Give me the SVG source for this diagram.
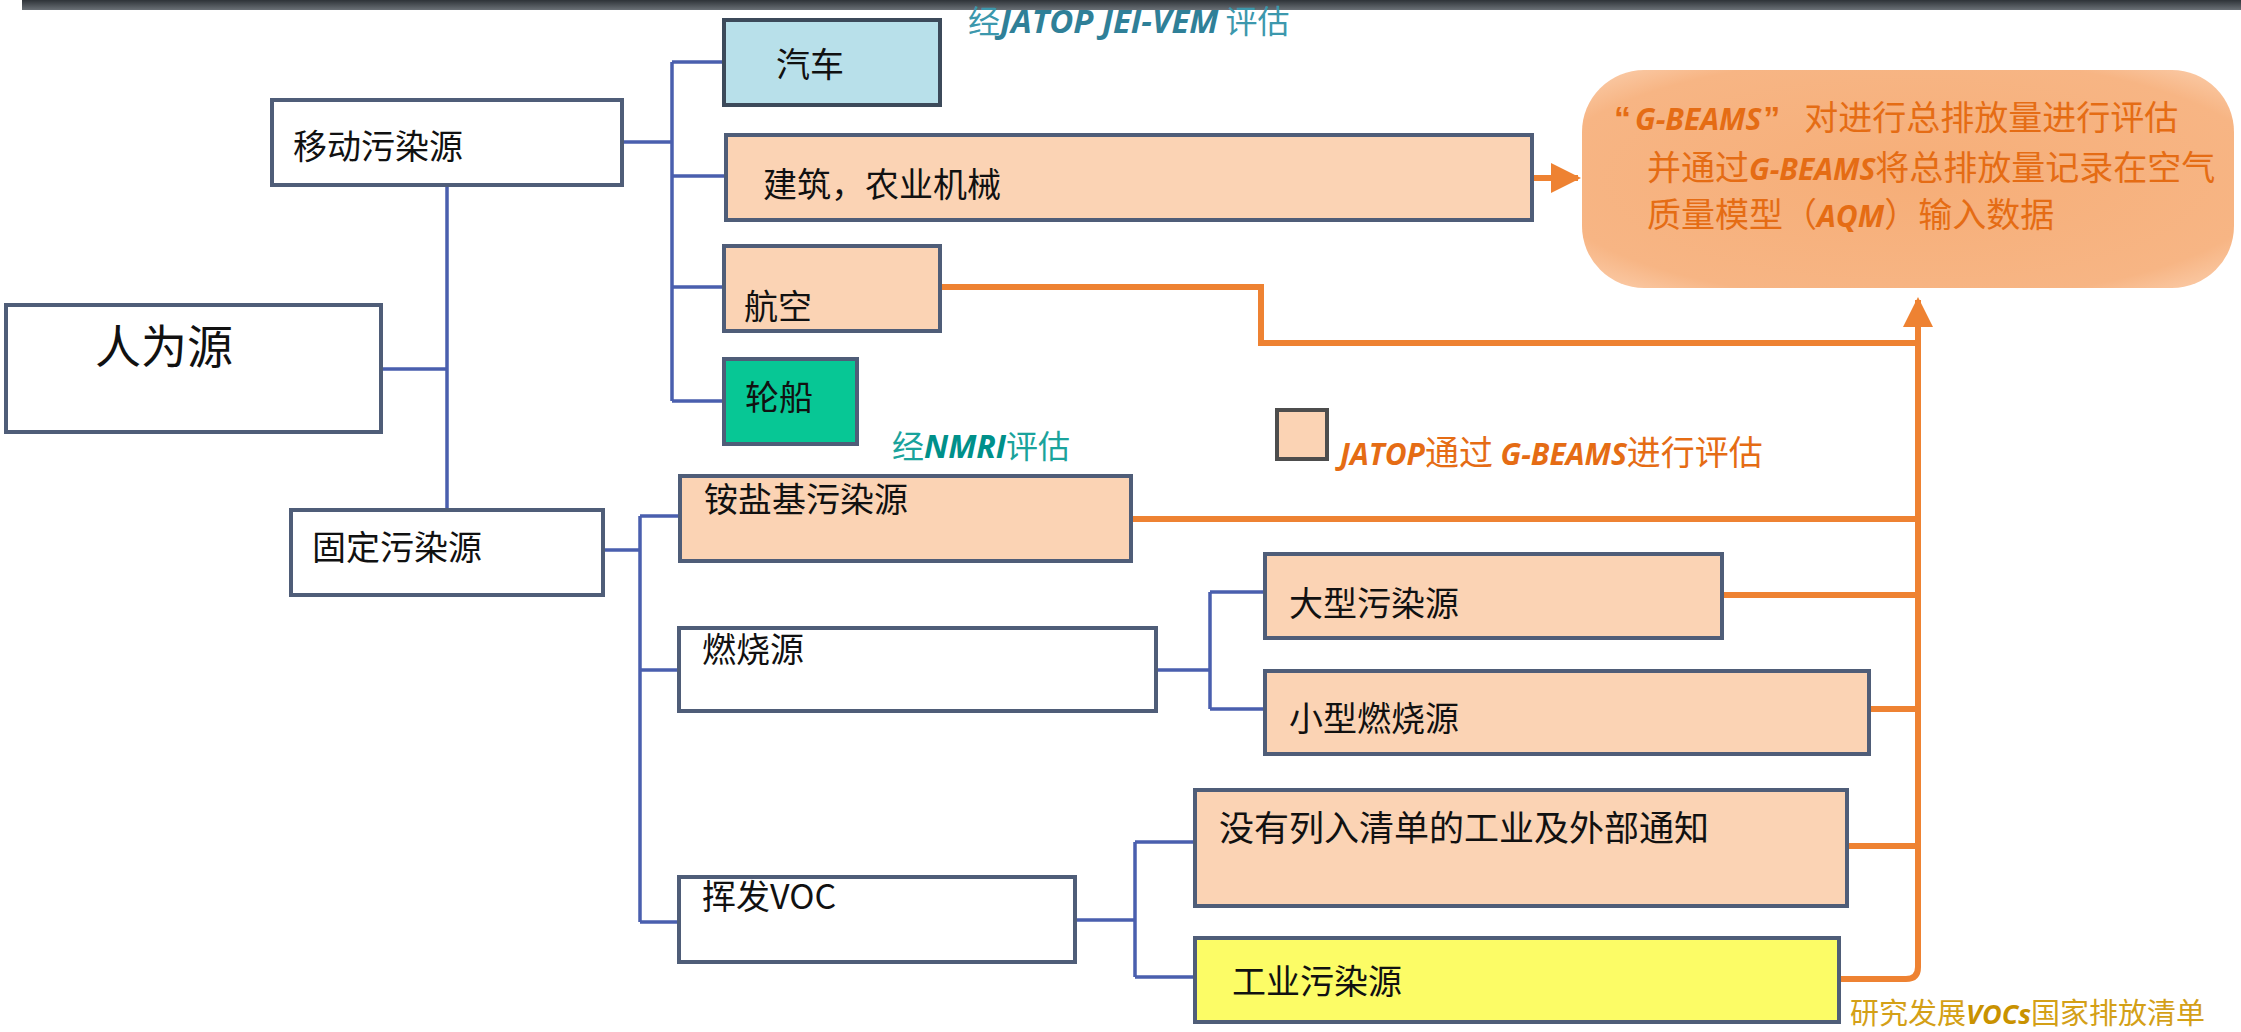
<svg xmlns="http://www.w3.org/2000/svg" width="2241" height="1032" viewBox="0 0 2241 1032">
<defs>
<linearGradient id="bar" x1="0" y1="0" x2="0" y2="1">
<stop offset="0" stop-color="#2e3338"/><stop offset="1" stop-color="#6a7076"/>
</linearGradient>
<radialGradient id="bigfill" cx="0.5" cy="0.5" r="0.7">
<stop offset="0" stop-color="#f6ae78"/><stop offset="0.8" stop-color="#f7b584"/><stop offset="1" stop-color="#fbcfae"/>
</radialGradient>
<marker id="arr" viewBox="0 0 10 10" refX="9" refY="5" markerWidth="5" markerHeight="5" orient="auto" markerUnits="strokeWidth">
<path d="M0,0 L10,5 L0,10 z" fill="#ee8232"/>
</marker>
<style>
.box{stroke:#4f5d78;stroke-width:4}
.white{fill:#ffffff}
.peach{fill:#fbd3b4}
.blue{fill:#b8e0ea}
.green{fill:#07c795}
.yellow{fill:#fcfc66}
.lbl{font-family:"Noto Sans CJK SC","Noto Sans",sans-serif;font-size:34px;fill:#111111}
.bl{fill:none;stroke:#4a5fae;stroke-width:3.5}
.ol{fill:none;stroke:#ee8232;stroke-width:6}
.or{font-family:"Noto Sans CJK SC","Noto Sans",sans-serif;font-size:34px;fill:#e56c14}
.lat{font-family:"Open Sans","Noto Sans",sans-serif;font-weight:bold;font-style:italic}
.teal{font-family:"Noto Sans CJK SC","Noto Sans",sans-serif;font-size:32px}
</style>
</defs>
<rect width="2241" height="1032" fill="#ffffff"/>
<rect x="22" y="0" width="2219" height="10" fill="url(#bar)"/>

<g id="connectors">
<path class="bl" d="M381,369 H447 M447,185 V510"/>
<path class="bl" d="M622,142 H672 M672,62 V401 M672,62 H724 M672,176 H726 M672,287 H724 M672,401 H724"/>
<path class="bl" d="M603,550 H640 M640,516 V922 M640,516 H680 M640,670 H679 M640,922 H679"/>
<path class="bl" d="M1156,670 H1210 M1210,592 V709 M1210,592 H1265 M1210,709 H1265"/>
<path class="bl" d="M1075,920 H1135 M1135,842 V977 M1135,842 H1195 M1135,977 H1195"/>
<path class="ol" d="M940,287 H1261 V343 H1918"/>
<path class="ol" d="M1131,519 H1918 M1722,595 H1918 M1869,709 H1918 M1847,846 H1918"/>
<path class="ol" d="M1839,979 H1906 Q1918,979 1918,967 V300" marker-end="url(#arr)"/>
<path class="ol" d="M1532,178 H1578" marker-end="url(#arr)"/>
</g>

<g id="n-renweiyuan"><rect class="box white" x="6" y="305" width="375" height="127"/><text class="lbl" x="95" y="363" style="font-size:46px">人为源</text></g>
<g id="n-yidong"><rect class="box white" x="272" y="100" width="350" height="85"/><text class="lbl" x="293" y="159">移动污染源</text></g>
<g id="n-guding"><rect class="box white" x="291" y="510" width="312" height="85"/><text class="lbl" x="312" y="560">固定污染源</text></g>
<g id="n-qiche"><rect class="box blue" x="724" y="20" width="216" height="85" style="stroke:#3c4a5a"/><text class="lbl" x="776" y="77">汽车</text></g>
<g id="n-jianzhu"><rect class="box peach" x="726" y="135" width="806" height="85"/><text class="lbl" x="763" y="197">建筑，农业机械</text></g>
<g id="n-hangkong"><rect class="box peach" x="724" y="246" width="216" height="85"/><text class="lbl" x="744" y="319">航空</text></g>
<g id="n-lunchuan"><rect class="box green" x="724" y="359" width="133" height="85"/><text class="lbl" x="745" y="410">轮船</text></g>
<g id="n-anyan"><rect class="box peach" x="680" y="476" width="451" height="85"/><text class="lbl" x="704" y="512">铵盐基污染源</text></g>
<g id="n-ranshao"><rect class="box white" x="679" y="628" width="477" height="83"/><text class="lbl" x="702" y="662">燃烧源</text></g>
<g id="n-huifa"><rect class="box white" x="679" y="877" width="396" height="85"/><text class="lbl" x="702" y="909">挥发VOC</text></g>
<g id="n-daxing"><rect class="box peach" x="1265" y="554" width="457" height="84"/><text class="lbl" x="1289" y="616">大型污染源</text></g>
<g id="n-xiaoxing"><rect class="box peach" x="1265" y="671" width="604" height="83"/><text class="lbl" x="1289" y="731">小型燃烧源</text></g>
<g id="n-meiyou"><rect class="box peach" x="1195" y="790" width="652" height="116"/><text class="lbl" x="1219" y="841" style="font-size:35px">没有列入清单的工业及外部通知</text></g>
<g id="n-gongye"><rect class="box yellow" x="1195" y="938" width="644" height="84"/><text class="lbl" x="1232" y="994">工业污染源</text></g>

<g id="n-gbeams">
<rect x="1582" y="70" width="652" height="218" rx="62" fill="url(#bigfill)"/>
<text class="or" x="1614" y="130"><tspan font-family="Liberation Sans" font-weight="bold">“</tspan><tspan class="lat" font-size="30" dx="4">G-BEAMS</tspan><tspan font-family="Liberation Sans" font-weight="bold" dx="2">”</tspan><tspan dx="24">对进行总排放量进行评估</tspan></text>
<text class="or" x="1647" y="180">并通过<tspan class="lat" font-size="30">G-BEAMS</tspan>将总排放量记录在空气</text>
<text class="or" x="1647" y="227">质量模型（<tspan class="lat" font-size="30">AQM</tspan>）输入数据</text>
</g>

<g id="legend">
<rect x="1277" y="410" width="50" height="49" fill="#fbd3b4" stroke="#4d4d4d" stroke-width="4"/>
<text class="or" x="1340" y="465"><tspan class="lat" font-size="30">JATOP</tspan>通过 <tspan class="lat" font-size="30">G-BEAMS</tspan>进行评估</text>
</g>

<g id="labels">
<text class="teal" x="968" y="33" fill="#3c98ad">经<tspan class="lat" fill="#2f8098" font-size="33">JATOP  JEI-VEM</tspan> 评估</text>
<text class="teal" x="892" y="458" fill="#1aa39c">经<tspan class="lat" fill="#00908a">NMRI</tspan>评估</text>
<text x="1850" y="1024" font-family="Noto Sans CJK SC, Noto Sans, sans-serif" font-size="29" fill="#d4a017">研究发展<tspan class="lat" font-size="27" fill="#c99200">VOCs</tspan>国家排放清单</text>
</g>
</svg>
